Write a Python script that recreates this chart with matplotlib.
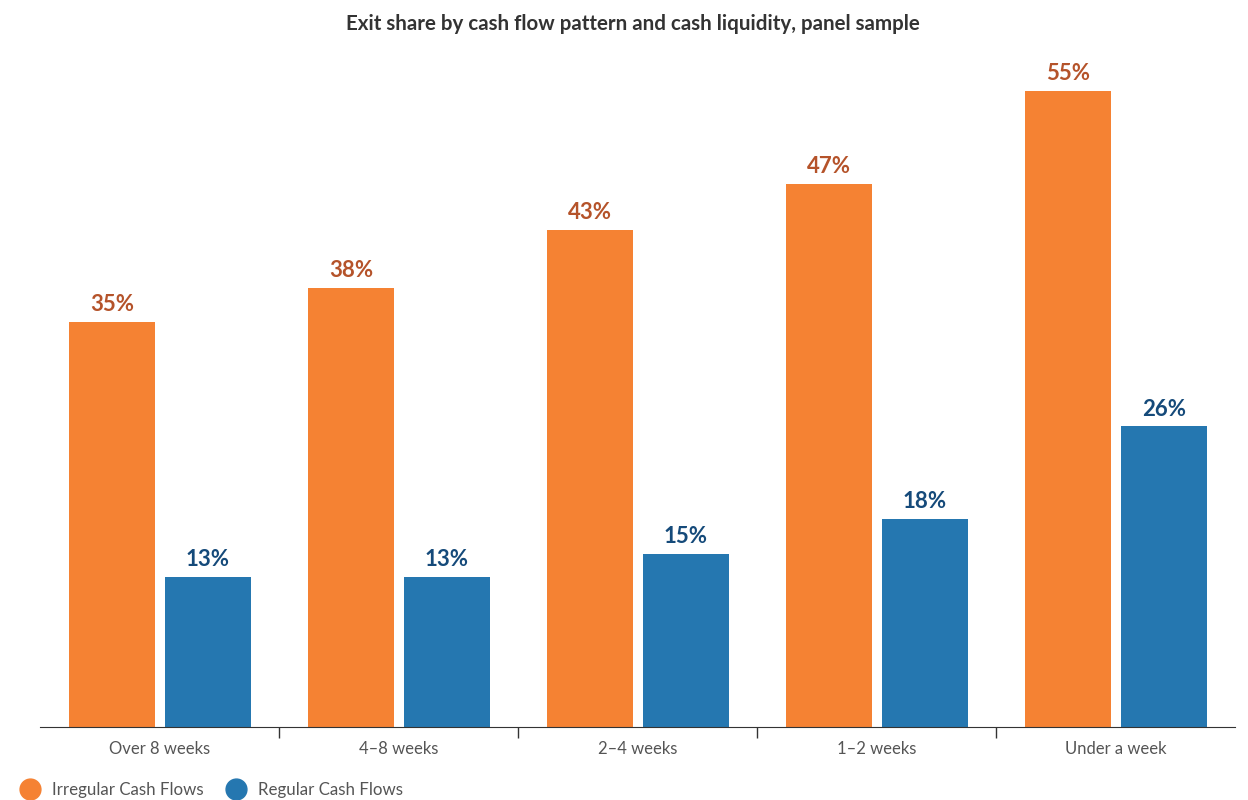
import matplotlib.pyplot as plt
import numpy as np
from matplotlib.lines import Line2D

plt.rcParams["font.family"] = ["Lato", "DejaVu Sans"]

categories = ["Over 8 weeks", "4\u20138 weeks", "2\u20134 weeks", "1\u20132 weeks", "Under a week"]
irregular = [35, 38, 43, 47, 55]
regular = [13, 13, 15, 18, 26]

orange = "#f58233"
blue = "#2577b0"
orange_txt = "#b5532a"
blue_txt = "#154a7a"

fig = plt.figure(figsize=(12.48, 8), dpi=100)
ax = fig.add_axes([40 / 1248, 73 / 800, 1195 / 1248, 667 / 800])

x = np.arange(len(categories))
w = 0.36
b1 = ax.bar(x - 0.198, irregular, w, color=orange)
b2 = ax.bar(x + 0.202, regular, w, color=blue)

for bars, vals, c in [(b1, irregular, orange_txt), (b2, regular, blue_txt)]:
    for b, v in zip(bars, vals):
        ax.annotate(f"{v}%", (b.get_x() + b.get_width() / 2, v), xytext=(0, 5),
                    textcoords="offset points", ha="center", va="bottom",
                    fontsize=16, fontweight="bold", color=c)

ax.set_xlim(-0.5, len(categories) - 0.5)
ax.set_ylim(0, 57.7)
ax.set_yticks([])
ax.set_xticks(x)
ax.set_xticklabels(categories, fontsize=12, color="#555555")
ax.tick_params(axis="x", length=0, pad=10)
ax.set_xticks(np.arange(len(categories) - 1) + 0.5, minor=True)
ax.tick_params(axis="x", which="minor", length=8, width=1, color="#333333")
for s in ["top", "right", "left"]:
    ax.spines[s].set_visible(False)
ax.spines["bottom"].set_color("#333333")

fig.suptitle("Exit share by cash flow pattern and cash liquidity, panel sample",
             fontsize=14.8, fontweight="bold", color="#333333", x=0.507, y=0.982)

handles = [Line2D([], [], marker="o", ls="", markersize=15, color=orange),
           Line2D([], [], marker="o", ls="", markersize=15, color=blue)]
fig.legend(handles, ["Irregular Cash Flows", "Regular Cash Flows"], loc="center left",
           bbox_to_anchor=(-0.002, 0.0125), ncol=2, frameon=False, fontsize=12.2,
           handletextpad=0.3, columnspacing=0.9, labelcolor="#555555")

fig.savefig("out.png", dpi=100)
